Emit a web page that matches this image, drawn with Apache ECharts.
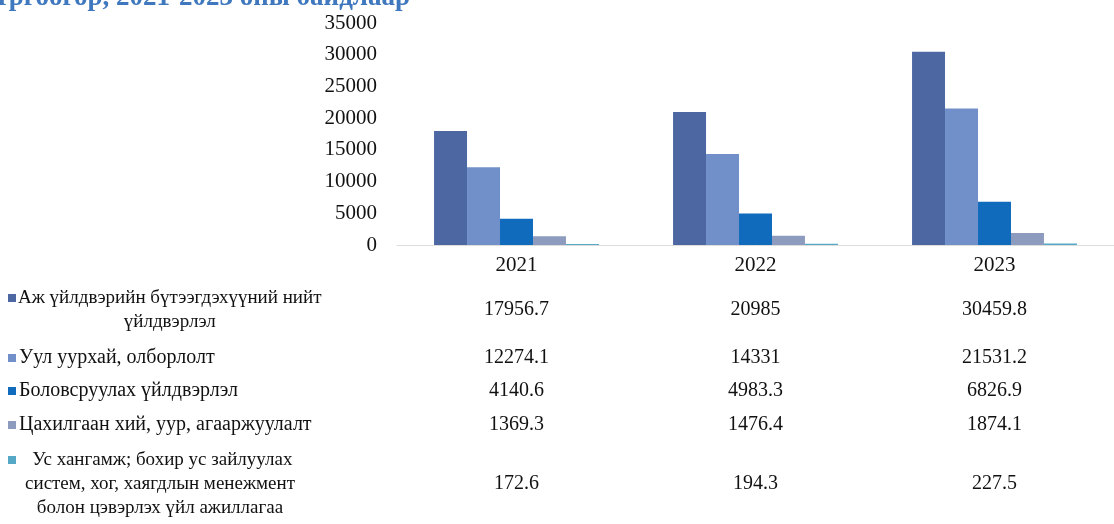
<!DOCTYPE html>
<html>
<head>
<meta charset="utf-8">
<script src="https://cdn.jsdelivr.net/npm/echarts@6/dist/echarts.min.js"></script>
<style>
  html, body { margin: 0; padding: 0; background: #fff; }
  #chart { width: 1114px; height: 524px; }
</style>
</head>
<body>
<div id="chart"></div>
<script>
// data
const titleText = 'тргоогор, 2021-2023 оны байдлаар'
const categories = ['2021', '2022', '2023']
const seriesNames = [
  'Аж үйлдвэрийн бүтээгдэхүүний нийт\nүйлдвэрлэл',
  'Уул уурхай, олборлолт',
  'Боловсруулах үйлдвэрлэл',
  'Цахилгаан хий, уур, агааржуулалт',
  ' Ус хангамж; бохир ус зайлуулах\nсистем, хог, хаягдлын менежмент\nболон цэвэрлэх үйл ажиллагаа',
]
const totalIndustry = [17956.7, 20985, 30459.8]
const mining = [12274.1, 14331, 21531.2]
const manufacturing = [4140.6, 4983.3, 6826.9]
const electricity = [1369.3, 1476.4, 1874.1]
const waterSupply = [172.6, 194.3, 227.5]
const seriesValues = [totalIndustry, mining, manufacturing, electricity, waterSupply]
const yMin = 0
const yMax = 35000
const yStep = 5000

const colors = ['#4D67A2', '#7190C9', '#106BBC', '#8D9CBE', '#55A9C6']
const font = '"Liberation Serif", "Times New Roman", serif'
const rowY = [310, 358, 391, 425, 484]

const chart = echarts.init(document.getElementById('chart'))

const option = {
  backgroundColor: '#fff',
  animation: false,
  grid: { left: 397, top: 23, width: 763, height: 222 },
  xAxis: {
    type: 'category',
    data: categories,
    axisTick: { show: false },
    axisLine: { lineStyle: { color: '#dcdcdc', width: 1 } },
    axisLabel: { color: '#111', fontFamily: font, fontSize: 21, margin: 10 },
  },
  yAxis: {
    type: 'value',
    min: yMin,
    max: yMax,
    interval: yStep,
    axisLine: { show: false },
    axisTick: { show: false },
    splitLine: { show: false },
    axisLabel: { color: '#111', fontFamily: font, fontSize: 21, margin: 20, formatter: v => String(v) },
  },
  series: seriesValues.map((vals, i) => ({
    name: seriesNames[i],
    type: 'bar',
    data: vals,
    barGap: 0,
    barCategoryGap: '31%',
    itemStyle: { color: colors[i] },
  })),
}
chart.setOption(option)

// measure text so wrapped legend rows are centred but never cover their marker
const ctx = document.createElement('canvas').getContext('2d')
const labelFont = (multi) => (multi ? '19px ' : '20px ') + font

const graphic = []
graphic.push({
  type: 'text',
  x: 410, y: -2,
  style: {
    text: titleText, align: 'right', verticalAlign: 'middle',
    font: 'bold 27px ' + font, fill: '#3F78BE',
  },
})
seriesNames.forEach((name, i) => {
  const lines = name.split('\n')
  const multi = lines.length > 1
  const lh = 24
  const top = rowY[i] - (lines.length * lh) / 2
  ctx.font = labelFont(multi)
  const w1 = ctx.measureText(lines[0]).width
  const cx = Math.max(160, 18 + w1 / 2)
  graphic.push({
    type: 'rect',
    shape: { x: 8, y: top + lh / 2 - 4, width: 8, height: 8 },
    style: { fill: colors[i] },
  })
  graphic.push({
    type: 'text',
    x: multi ? cx : 19,
    y: rowY[i],
    style: {
      text: name, align: multi ? 'center' : 'left', verticalAlign: 'middle',
      lineHeight: lh, font: labelFont(multi), fill: '#111',
    },
  })
  categories.forEach((c, j) => {
    const px = chart.convertToPixel({ xAxisIndex: 0 }, c)
    graphic.push({
      type: 'text',
      x: px, y: rowY[i],
      style: {
        text: String(seriesValues[i][j]), align: 'center', verticalAlign: 'middle',
        font: '20px ' + font, fill: '#111',
      },
    })
  })
})
chart.setOption({ graphic })
</script>
</body>
</html>
